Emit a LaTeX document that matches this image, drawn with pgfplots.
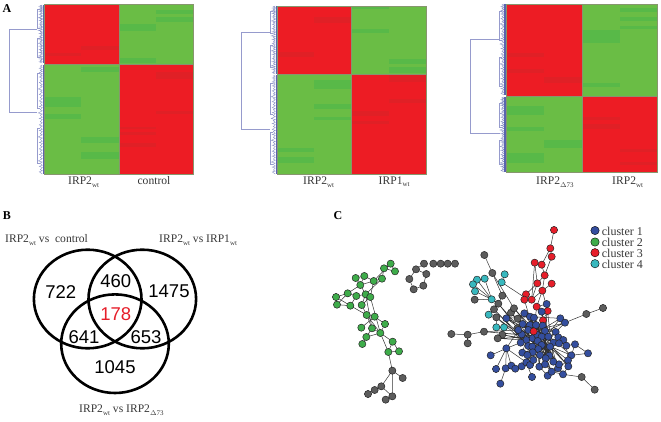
\documentclass[border=0pt]{standalone}
\usepackage{fontspec}
\usepackage{pgfplots}
\pgfplotsset{compat=1.18}
\setmainfont{Liberation Serif}
\newfontfamily\vennfont{Liberation Sans}
\definecolor{hred}{RGB}{237,28,36}
\definecolor{hredd}{RGB}{224,32,38}
\definecolor{hgreen}{RGB}{106,189,69}
\definecolor{hgreend}{RGB}{88,185,72}
\definecolor{hedge}{RGB}{135,150,110}
\definecolor{dendro}{RGB}{150,155,205}
\definecolor{dendrob}{RGB}{90,100,175}
\definecolor{labelc}{RGB}{55,55,55}
\definecolor{nblue}{RGB}{52,78,158}
\definecolor{ngreen}{RGB}{62,172,74}
\definecolor{nred}{RGB}{230,30,42}
\definecolor{ncyan}{RGB}{56,184,190}
\definecolor{ngrey}{RGB}{92,92,92}

% rectangle in image pixels: x0 x1 y0 y1 colour
\newcommand{\cell}[5]{\addplot[draw=none,fill=#5] coordinates {(#1,#3)(#2,#3)(#2,#4)(#1,#4)} -- cycle;}
\newcommand{\frameb}[6]{% left midx right top midy bottom
  \addplot[hedge,line width=0.8pt] coordinates {(#1,#4)(#3,#4)(#3,#6)(#1,#6)(#1,#4)};
  \addplot[hedge,line width=0.6pt] coordinates {(#2,#4)(#2,#6)};
  \addplot[hedge,line width=0.6pt] coordinates {(#1,#5)(#3,#5)};}
% small tree beside a heatmap: left top bottom, points are (dx, percent of height)
\newcommand{\tree}[3]{%
  \addplot[dendrob!70,line width=0.4pt,
    x filter/.expression={x+#1},y filter/.expression={#2+y*(#3-#2)/100}] coordinates {
    (-2,0)(-4,1)(-2,2)(-5,3)(-2,4)(-4,5)(-2,6)(-5,7)(-2,8)(-4,9)(-2,10)(-5,11)(-2,12)(-4,14)(-2,15)(-5,16)(-2,18)(-4,19)(-2,20)(-6,22)(-2,23)(-4,24)(-2,25)
    (-5,27)(-2,28)(-4,30)(-2,31)(-5,33)(-2,34)(-4,35)(-2,37)(-5,38)(-2,39)(-4,41)(-2,42)(-6,44)(-2,45)(-4,46)(-2,48)(-5,49)(-2,50)(-4,52)(-2,53)(-5,55)
    (-2,56)(-4,57)(-2,59)(-5,60)(-2,61)(-4,63)(-2,64)(-6,66)(-2,67)(-4,68)(-2,70)(-5,71)(-2,72)(-4,74)(-2,75)(-5,77)(-2,78)(-4,79)(-2,81)(-5,82)(-2,83)
    (-4,85)(-2,86)(-6,88)(-2,89)(-4,90)(-2,92)(-5,93)(-2,94)(-4,96)(-2,97)(-5,98)(-2,100)};
  \addplot[dendro,line width=0.45pt,
    x filter/.expression={x+#1},y filter/.expression={#2+y*(#3-#2)/100}] coordinates {
    (-4,8)(-7,8)(-7,40)(-4,40)};
  \addplot[dendro,line width=0.45pt,
    x filter/.expression={x+#1},y filter/.expression={#2+y*(#3-#2)/100}] coordinates {
    (-4,58)(-7,58)(-7,90)(-4,90)};
  \addplot[dendrob,line width=1.3pt] coordinates {(#1-1,#2)(#1-1,#3)};}
\newcommand{\edL}[1]{\addplot[edgeL] coordinates {#1};}
\newcommand{\edR}[1]{\addplot[edgeR] coordinates {#1};}
\newcommand{\sub}[1]{\raisebox{-2.4pt}{\fontsize{7}{7}\selectfont #1}}
\newcommand{\lab}[3]{\node[text=labelc,inner sep=0pt,font=\fontsize{11.6}{13}\selectfont,anchor=#3] at (axis cs:#1) {#2};}
\newcommand{\num}[3][black]{\node[text=#1,font=\vennfont\fontsize{18.5}{20}\selectfont] at (axis cs:#2) {#3};}
\newcommand{\panel}[2]{\node[font=\bfseries\fontsize{12}{14}\selectfont] at (axis cs:#1) {#2};}

\pgfplotsset{
  zoomL/.style={x filter/.expression={x/3+320},y filter/.expression={y/3+205}},
  zoomR/.style={x filter/.expression={x/3+450},y filter/.expression={y/3+205}},
  edgeL/.style={draw=black!80,line width=0.5pt,zoomL},
  edgeR/.style={draw=black!80,line width=0.5pt,zoomR},
  nodes/.style={only marks,mark=*,mark size=3.6pt,mark options={fill=#1,draw=black!85,line width=0.5pt}},
  legdot/.style={only marks,mark=*,mark size=4.2pt,mark options={fill=#1,draw=none}},
}

\begin{document}
\begin{tikzpicture}
\useasboundingbox (0,0) rectangle (661pt,422pt);
\begin{axis}[
  at={(0,0)},anchor=south west,
  scale only axis,width=661pt,height=422pt,
  xmin=0,xmax=661,ymin=0,ymax=422,y dir=reverse,
  hide axis,clip=false,
]
% heatmap 1
\cell{44.3}{119}{4.7}{64}{hred}
\cell{119}{193.3}{4.7}{64}{hgreen}
\cell{44.3}{119}{64}{174}{hgreen}
\cell{119}{193.3}{64}{174}{hred}
\cell{44.3}{81.3}{53.5}{56.5}{hredd}
\cell{81.3}{119}{46.5}{50}{hredd}
\cell{119}{156}{24}{30.7}{hgreend}
\cell{156}{193.3}{10}{14}{hgreend}
\cell{156}{193.3}{17}{22}{hgreend}
\cell{119}{156}{58}{63}{hgreend}
\cell{44.3}{81.3}{97}{107}{hgreend}
\cell{44.3}{81.3}{114}{119}{hgreend}
\cell{81.3}{119}{67}{72}{hgreend}
\cell{81.3}{119}{137}{143}{hgreend}
\cell{81.3}{119}{152}{159}{hgreend}
\cell{156}{193.3}{72}{79}{hredd}
\cell{156}{193.3}{111}{114}{hredd}
\cell{119}{156}{127}{129}{hredd}
\cell{119}{156}{132}{135}{hredd}
\cell{119}{156}{143}{147}{hredd}
\frameb{44.3}{119}{193.3}{4.7}{64}{174}
% heatmap 2
\cell{277.3}{351.7}{6}{74.7}{hred}
\cell{351.7}{426.7}{6}{74.7}{hgreen}
\cell{277.3}{351.7}{74.7}{174}{hgreen}
\cell{351.7}{426.7}{74.7}{174}{hred}
\cell{314.3}{351.7}{17}{23}{hredd}
\cell{277.3}{314.3}{52}{57}{hredd}
\cell{351.7}{389}{6}{9.5}{hgreend}
\cell{351.7}{389}{29}{33}{hgreend}
\cell{389}{426.7}{59}{64}{hgreend}
\cell{389}{426.7}{67}{73}{hgreend}
\cell{314.3}{351.7}{80}{89}{hgreend}
\cell{314.3}{351.7}{104}{109}{hgreend}
\cell{314.3}{351.7}{117}{120}{hgreend}
\cell{277.3}{314.3}{148}{152}{hgreend}
\cell{277.3}{314.3}{157}{163}{hgreend}
\cell{389}{426.7}{75}{82}{hredd}
\cell{389}{426.7}{99}{103}{hredd}
\cell{351.7}{389}{111}{116}{hredd}
\cell{351.7}{389}{121}{124}{hredd}
\frameb{277.3}{351.7}{426.7}{6}{74.7}{174}
% heatmap 3
\cell{506}{582}{4}{96}{hred}
\cell{582}{657.3}{4}{96}{hgreen}
\cell{506}{582}{96}{172.3}{hgreen}
\cell{582}{657.3}{96}{172.3}{hred}
\cell{506}{544}{53}{57}{hredd}
\cell{506}{544}{69}{73}{hredd}
\cell{544}{582}{77}{83}{hredd}
\cell{582}{619.7}{30}{43}{hgreend}
\cell{582}{619.7}{83}{87}{hgreend}
\cell{619.7}{657.3}{8}{12}{hgreend}
\cell{619.7}{657.3}{17}{21}{hgreend}
\cell{619.7}{657.3}{26}{29}{hgreend}
\cell{506}{544}{106}{115}{hgreend}
\cell{506}{544}{127}{131}{hgreend}
\cell{506}{544}{153}{163}{hgreend}
\cell{544}{582}{140}{148}{hgreend}
\cell{582}{619.7}{117}{120}{hredd}
\cell{582}{619.7}{124}{129}{hredd}
\cell{619.7}{657.3}{149}{152}{hredd}
\cell{619.7}{657.3}{162}{165}{hredd}
\frameb{506}{582}{657.3}{4}{96}{172.3}
% dendrograms
\tree{44.3}{5}{63}
\tree{44.3}{65}{174}
\addplot[dendro,line width=0.7pt] coordinates {(37,29)(9,29)(9,112)(37,112)};
\tree{277.3}{6}{74}
\tree{277.3}{75}{174}
\addplot[dendro,line width=0.7pt] coordinates {(270,32.3)(241.7,32.3)(241.7,129)(270,129)};
\tree{506}{4}{95}
\tree{506}{97}{172}
\addplot[dendro,line width=0.7pt] coordinates {(500,39.3)(470,39.3)(470,133.3)(500,133.3)};

% network, left part (numbers are pixels of a 3x crop at 320,205)
\edL{(212,176)(192,190)(225,199)(212,176)(161,228)}
\edL{(192,190)(186,221)(161,228)(133,213)(107,219)(121,240)(133,213)}
\edL{(121,240)(161,228)}
\edL{(121,240)(83,265)(48,276)(51,299)(91,302)(109,273)(83,265)(51,299)}
\edL{(48,276)(91,302)(140,330)}
\edL{(109,273)(137,268)(151,276)(125,300)(137,268)(121,240)}
\edL{(161,228)(151,276)}
\edL{(186,221)(137,268)(156,370)}
\edL{(125,300)(140,330)(164,335)(195,357)(181,384)(156,370)(140,330)(181,384)}
\edL{(151,276)(181,384)}
\edL{(124,368)(164,335)}
\edL{(156,370)(139,396)(127,417)}
\edL{(139,396)(181,384)(218,410)(205,441)(237,439)(218,410)}
\edL{(181,384)(205,441)(217,497)(248,519)}
\edL{(217,497)(184,544)(164,555)(144,567)}
\edL{(217,497)(217,574)(184,544)}
\edL{(217,574)(197,584)}
\edL{(312,176)(288,193)(319,207)(310,242)(281,253)(268,222)(288,193)}
\edL{(340,176)(405,176)}
% network, right part (3x crop at 450,205)
\edR{(312,75)(301,130)(305,155)(284,211)(262,235)(254,173)}
\edR{(301,130)(275,179)(284,211)(277,257)(293,318)(279,346)(251,379)}
\edR{(305,236)(277,257)(260,305)(290,297)}
\edR{(262,235)(245,284)(223,284)(228,268)(262,235)}
\edR{(228,268)(245,284)(277,257)}
\edR{(254,173)(245,284)}
\edR{(223,284)(251,379)(260,305)}
\edR{(69,238)(125,283)(75,259)}
\edR{(81,224)(125,283)(104,221)}
\edR{(74,284)(125,283)(145,296)(116,329)(139,337)(139,367)(162,367)}
\edR{(164,208)(155,232)(228,280)}
\edR{(103,150)(127,204)(157,272)(145,296)}
\edR{(127,204)(192,310)}
\edR{(4,387)(53,389)(102,380)(205,375)}
\edR{(53,389)(53,415)}
\edR{(345,353)(409,327)(459,309)}
\edR{(339,508)(395,516)(434,554)}
\edR{(375,418)(414,445)(364,451)}
\edR{(169,340)(240,335)(331,340)(345,353)(317,381)(258,360)(218,357)(169,430)(122,451)}
\edR{(138,492)(169,430)(167,490)}
\edR{(184,482)(169,430)(229,472)}
\edR{(169,430)(212,413)}
\edR{(151,536)(167,490)(196,491)(215,484)(229,472)(240,480)(248,442)(217,443)(229,405)(235,375)(205,375)}
\edR{(246,516)(229,472)(270,450)(268,485)(293,512)(305,500)(324,490)(354,466)(349,422)(375,418)(364,451)(355,484)(339,508)(305,500)(285,478)(298,452)(265,432)(263,408)(285,378)(317,381)(340,405)(349,422)}
\edR{(202,370)(300,425)(217,443)(340,405)(248,442)(327,415)(232,450)(317,381)(250,465)(285,378)(287,460)(262,390)(270,450)(240,360)(298,452)(218,357)(310,413)(169,340)(275,420)(183,323)(265,432)(145,296)(247,425)(132,313)(235,423)(139,337)(229,405)(157,389)(263,408)(143,400)(275,395)(102,380)(295,395)(203,341)(327,478)(192,310)(355,484)(223,325)(324,490)(275,320)(287,460)(290,297)(310,470)(252,338)(268,485)(278,362)(229,472)(331,340)(212,413)(345,353)(215,388)(364,451)(258,360)(339,508)(240,335)(305,500)(218,357)(354,466)}
% nodes
\addplot[nodes=ngreen,zoomL] coordinates {(212,176)(192,190)(225,199)(107,219)(133,213)(161,228)(186,221)(121,240)(83,265)(48,276)(51,299)(91,302)(109,273)(137,268)(151,276)(125,300)(140,330)(164,335)(195,357)(124,368)(156,370)(181,384)(139,396)(127,417)(218,410)(205,441)(237,439)};
\addplot[nodes=ngrey,zoomL] coordinates {(217,497)(248,519)(184,544)(164,555)(144,567)(217,574)(197,584)(312,176)(288,193)(319,207)(268,222)(281,253)(310,242)(340,176)(362,176)(383,176)(405,176)};
\addplot[nodes=ngrey,zoomR] coordinates {(103,150)(127,204)(74,284)(157,272)(145,296)(132,313)(183,323)(192,310)(139,337)(203,341)(202,370)(157,389)(143,400)(102,380)(53,389)(53,415)(4,387)(409,327)(459,309)(395,516)(434,554)};
\addplot[nodes=ncyan,zoomR] coordinates {(164,208)(155,232)(104,221)(81,224)(69,238)(75,259)(125,283)(116,329)(139,367)(162,367)};
\addplot[nodes=nred,zoomR] coordinates {(312,75)(301,130)(305,155)(254,173)(275,179)(284,211)(262,235)(305,236)(277,257)(228,268)(245,284)(223,284)(260,305)(293,318)(279,346)};
\addplot[nodes=nblue,zoomR] coordinates {(290,297)(223,325)(275,320)(169,340)(240,335)(252,338)(331,340)(345,353)(218,357)(240,360)(258,360)(278,362)(235,375)(285,378)(317,381)(215,388)(229,405)(248,400)(262,390)(275,395)(295,395)(212,413)(235,423)(263,408)(275,420)(247,425)(265,432)(325,397)(340,405)(310,413)(327,415)(349,422)(375,418)(414,445)(217,443)(248,442)(270,450)(298,452)(287,460)(364,451)(169,430)(122,451)(138,492)(167,490)(184,482)(196,491)(215,484)(229,472)(240,480)(268,485)(285,478)(293,512)(305,500)(246,516)(151,536)(324,490)(327,478)(354,466)(355,484)(339,508)(310,470)(232,450)(300,425)(250,465)(205,375)};
\addplot[nodes=nred,zoomR] coordinates {(251,379)};
% legend dots
\addplot[legdot=nblue] coordinates {(595,230.5)};
\addplot[legdot=ngreen] coordinates {(595,242)};
\addplot[legdot=nred] coordinates {(595,252.7)};
\addplot[legdot=ncyan] coordinates {(595,263.7)};
% venn
\draw[line width=2.6pt] (axis cs:87.7,299) ellipse [x radius=53.8pt,y radius=49.3pt];
\draw[line width=2.6pt] (axis cs:142.3,299) ellipse [x radius=53.8pt,y radius=49.3pt];
\draw[line width=2.6pt] (axis cs:115,343.7) ellipse [x radius=53.8pt,y radius=49.3pt];
\num{60.7,291.7}{722}
\num{115.7,281}{460}
\num{169,291.7}{1475}
\num[nred]{115.7,314}{178}
\num{84,336.7}{641}
\num{146,336.7}{653}
\num{115,366.7}{1045}
% texts
\panel{7,9}{A}
\panel{7,216}{B}
\panel{338,216}{C}
\lab{68,182}{IRP2\sub{wt}}{west}
\lab{154,181}{control}{center}
\lab{303,182}{IRP2\sub{wt}}{west}
\lab{378.5,182}{IRP1\sub{wt}}{west}
\lab{536,182}{IRP2\sub{$\Delta$73}}{west}
\lab{612,182}{IRP2\sub{wt}}{west}
\lab{5,240}{IRP2\sub{wt} vs\ \ control}{west}
\lab{159,240}{IRP2\sub{wt} vs IRP1\sub{wt}}{west}
\lab{79,410}{IRP2\sub{wt} vs IRP2\sub{$\Delta$73}}{west}
\node[text=labelc,font=\fontsize{12}{14}\selectfont,anchor=west,inner sep=0pt] at (axis cs:601.7,231) {cluster 1};
\node[text=labelc,font=\fontsize{12}{14}\selectfont,anchor=west,inner sep=0pt] at (axis cs:601.7,242) {cluster 2};
\node[text=labelc,font=\fontsize{12}{14}\selectfont,anchor=west,inner sep=0pt] at (axis cs:601.7,253) {cluster 3};
\node[text=labelc,font=\fontsize{12}{14}\selectfont,anchor=west,inner sep=0pt] at (axis cs:601.7,264) {cluster 4};
\end{axis}
\end{tikzpicture}
\end{document}
